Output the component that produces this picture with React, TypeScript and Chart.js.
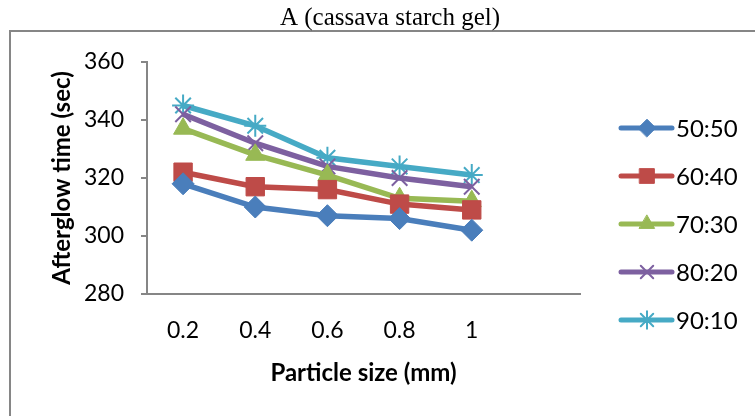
import React, { useEffect, useRef } from "react";
import { Chart, registerables } from "chart.js";
import { drawPoint } from "chart.js/helpers";

Chart.register(...registerables);

const categories = ["0.2", "0.4", "0.6", "0.8", "1", ""];
const seriesNames = ["50:50", "60:40", "70:30", "80:20", "90:10"];
const s5050 = [318, 310, 307, 306, 302];
const s6040 = [322, 317, 316, 311, 309];
const s7030 = [337, 328, 321, 313, 312];
const s8020 = [342, 332, 324, 320, 317];
const s9010 = [345, 338, 327, 324, 321];
const yTicks = [280, 300, 320, 340, 360];

const colors = ["#4A7EBB", "#BE4B48", "#98B954", "#7D60A0", "#46AAC5"];
const styles = ["rectRot", "rect", "triangle", "crossRot", "star"];
const radii = [11, 13, 11, 11, 11];
const pbw = [1, 1, 1, 2, 2];

const FONT = "Lato, 'Open Sans', sans-serif";
const GRAY = "#868686";

export default function App() {
  const ref = useRef<HTMLCanvasElement | null>(null);
  useEffect(() => {
    document.body.style.margin = "0";
    const values = [s5050, s6040, s7030, s8020, s9010];
    const framePlugin = {
      id: "frame",
      beforeDraw(chart: any) {
        const ctx = chart.ctx;
        ctx.save();
        ctx.fillStyle = "#fff";
        ctx.fillRect(0, 0, chart.width, chart.height);
        ctx.strokeStyle = GRAY;
        ctx.lineWidth = 2;
        ctx.beginPath();
        ctx.moveTo(10, chart.height + 5);
        ctx.lineTo(10, 31);
        ctx.lineTo(chart.width + 5, 31);
        ctx.stroke();
        ctx.fillStyle = "#000";
        ctx.font = "25px 'Liberation Serif', 'Times New Roman', serif";
        ctx.textAlign = "center";
        ctx.textBaseline = "alphabetic";
        ctx.fillText("A (cassava starch gel)", 390, 25);
        ctx.restore();
      },
      afterDraw(chart: any) {
        const ctx = chart.ctx;
        ctx.save();
        chart.data.datasets.forEach((ds: any, i: number) => {
          const y = 128 + 48 * i;
          ctx.strokeStyle = ds.borderColor;
          ctx.lineWidth = 5;
          ctx.lineCap = "round";
          ctx.beginPath();
          ctx.moveTo(621, y);
          ctx.lineTo(672, y);
          ctx.stroke();
          ctx.fillStyle = ds.pointBackgroundColor;
          ctx.strokeStyle = ds.pointBorderColor;
          ctx.lineWidth = ds.pointBorderWidth;
          drawPoint(ctx, { pointStyle: ds.pointStyle, radius: ds.pointRadius * 0.8, rotation: 0, borderWidth: ds.pointBorderWidth }, 647, y);
          ctx.fillStyle = "#000";
          ctx.font = `24px ${FONT}`;
          ctx.textAlign = "left";
          ctx.textBaseline = "middle";
          ctx.fillText(ds.label, 676, y + 1);
        });
        ctx.restore();
      },
    };
    const chart = new Chart(ref.current as HTMLCanvasElement, {
      type: "line",
      data: {
        labels: categories,
        datasets: seriesNames.map((name, i) => ({
          label: name,
          data: values[i],
          borderColor: colors[i],
          backgroundColor: colors[i],
          borderWidth: 5.5,
          pointStyle: styles[i],
          pointRadius: radii[i],
          pointBackgroundColor: colors[i],
          pointBorderColor: colors[i],
          pointBorderWidth: pbw[i],
          tension: 0,
          fill: false,
        })),
      },
      options: {
        animation: false,
        responsive: true,
        maintainAspectRatio: false,
        layout: { padding: { top: 62, right: 175, left: 0, bottom: 0 } },
        plugins: { legend: { display: false }, tooltip: { enabled: false }, title: { display: false } },
        scales: {
          x: {
            type: "category",
            offset: true,
            afterFit: (s: any) => { s.height = 122; },
            grid: { display: false, drawTicks: false },
            border: { display: true, color: GRAY, width: 2 },
            ticks: { color: "#000", font: { family: FONT, size: 23 }, padding: 23, maxRotation: 0, autoSkip: false },
            title: {
              display: true,
              text: "Particle size (mm)",
              color: "#000",
              font: { family: FONT, size: 24, weight: "bold" },
              padding: { top: 0, bottom: 28 },
            },
          },
          y: {
            min: 280,
            max: 360,
            afterFit: (s: any) => { s.width = 147; },
            afterBuildTicks: (s: any) => { s.ticks = yTicks.map((v) => ({ value: v })); },
            grid: { drawOnChartArea: false, drawTicks: true, tickLength: 6, color: GRAY, lineWidth: 2 },
            border: { display: true, color: GRAY, width: 2 },
            ticks: { color: "#000", font: { family: FONT, size: 23 }, padding: 17 },
            title: {
              display: true,
              text: "Afterglow time (sec)",
              color: "#000",
              font: { family: FONT, size: 24, weight: "bold" },
              padding: { top: 48, bottom: 0 },
            },
          },
        },
      },
      plugins: [framePlugin],
    } as any);
    return () => chart.destroy();
  }, []);
  return (
    <div style={{ position: "absolute", left: 0, top: 0, width: 755, height: 416 }}>
      <canvas ref={ref} />
    </div>
  );
}
